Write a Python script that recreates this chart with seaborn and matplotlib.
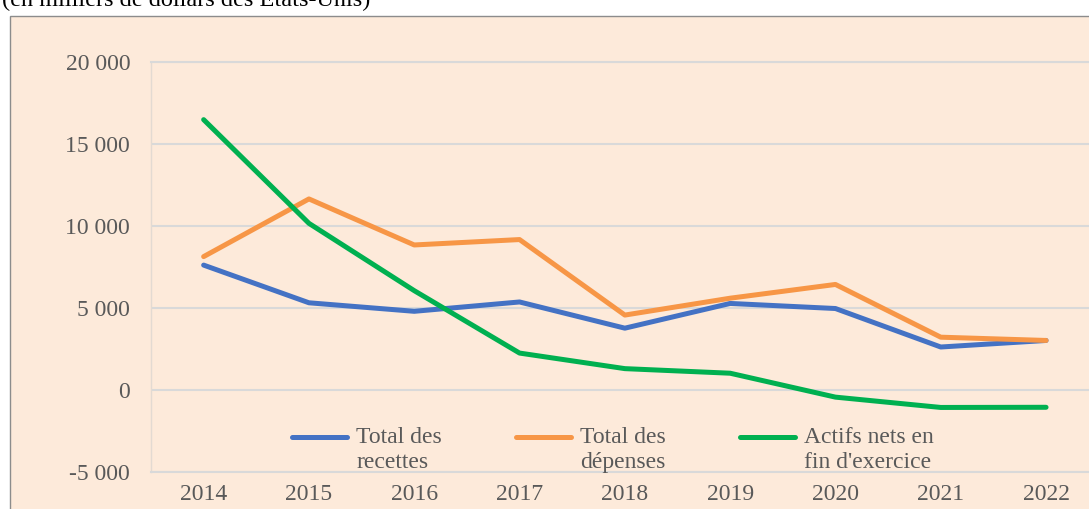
import numpy as np
import pandas as pd
import matplotlib
matplotlib.use("Agg")
import matplotlib.pyplot as plt
import seaborn as sns
from matplotlib.patches import Rectangle
from matplotlib.lines import Line2D
from matplotlib.legend_handler import HandlerLine2D

# Data (en milliers de dollars des Etats-Unis)
years = ["2014", "2015", "2016", "2017", "2018", "2019", "2020", "2021", "2022"]
recettes = [7600, 5300, 4780, 5350, 3750, 5260, 4950, 2600, 3000]
depenses = [8120, 11640, 8830, 9160, 4550, 5580, 6420, 3200, 3000]
actifs = [16480, 10150, 6040, 2230, 1280, 1000, -460, -1090, -1080]
series_names = ["Total des\nrecettes", "Total des\ndépenses", "Actifs nets en\nfin d'exercice"]
colors = ["#4472C4", "#F79646", "#00B050"]
y_ticks = [-5000, 0, 5000, 10000, 15000, 20000]
y_labels = ["-5 000", "0", "5 000", "10 000", "15 000", "20 000"]

df = pd.DataFrame({
    "Année": years * 3,
    "Valeur": recettes + depenses + actifs,
    "Série": np.repeat(series_names, len(years)),
})

sns.set_style("white")
plt.rcParams["font.family"] = ["Liberation Serif", "DejaVu Serif"]

W, H = 1089, 509
fig = plt.figure(figsize=(W / 100, H / 100), dpi=100, facecolor="white")

# chart area background with border (cropped at right and bottom)
fig.patches.append(Rectangle((10 / W, -0.1), 1.2, 1 - 16 / H + 0.1, transform=fig.transFigure,
                             facecolor="#FDEADA", edgecolor="#8C8C8C", lw=1, zorder=-5))

fig.text(2 / W, 1 - 5 / H, "(en milliers de dollars des États-Unis)", ha="left", va="baseline",
         fontsize=17.5, color="black")

ax = fig.add_axes([151 / W, (H - 471.5) / H, (1098.7 - 151) / W, (471.5 - 62) / H])
ax.set_facecolor("#FDEADA")

sns.lineplot(data=df, x="Année", y="Valeur", hue="Série", palette=colors, linewidth=3.6,
             legend=False, ax=ax, solid_capstyle="round", solid_joinstyle="round", zorder=3)

ax.set_xlim(-0.5, 8.5)
ax.set_ylim(-5000, 20000)
ax.set_yticks(y_ticks)
ax.set_yticklabels(y_labels)
ax.set_xlabel("")
ax.set_ylabel("")
ax.yaxis.grid(True, color="#D9D9D9", lw=1.5)
ax.xaxis.grid(False)
ax.set_axisbelow(True)
for side in ["top", "bottom"]:
    ax.spines[side].set_color("#D9D9D9")
    ax.spines[side].set_linewidth(1.5)
ax.spines["left"].set_color("#E3DAD2")
ax.spines["left"].set_linewidth(1)
ax.spines["right"].set_visible(False)
ax.tick_params(axis="y", length=0, pad=15, labelsize=17, labelcolor="#595959")
ax.tick_params(axis="x", length=0, pad=9, labelsize=17, labelcolor="#595959")


class TopLine(HandlerLine2D):
    # put the legend line level with the first text line
    def create_artists(self, legend, orig_handle, xdescent, ydescent, width, height, fontsize, trans):
        artists = super().create_artists(legend, orig_handle, xdescent, ydescent, width, height,
                                         fontsize, trans)
        for a in artists:
            a.set_ydata(np.asarray(a.get_ydata()) + 0.55 * fontsize)
        return artists


handles = [Line2D([], [], color=c, lw=3.6, solid_capstyle="round") for c in colors]
leg = ax.legend(handles, series_names, ncol=3, loc="center", bbox_to_anchor=(0.4875, 0.0525),
                frameon=False, fontsize=17, labelcolor="#595959", handlelength=2.33,
                handletextpad=0.38, columnspacing=3.15, handler_map={Line2D: TopLine()})

fig.savefig("out.png", dpi=100)
